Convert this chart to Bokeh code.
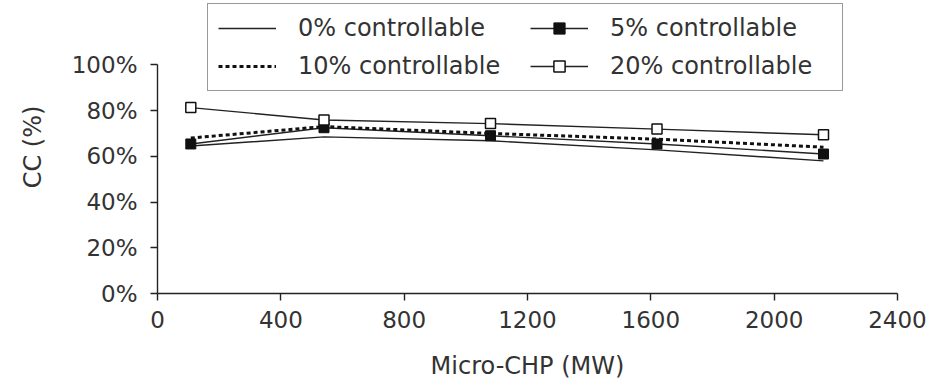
from bokeh.plotting import figure
from bokeh.models import Range1d, Legend, LegendItem, FixedTicker, CustomJSTickFormatter
from bokeh.embed import file_html
from bokeh.resources import INLINE

# Data
micro_chp = [108, 540, 1080, 1620, 2160]
cc_0 = [64.5, 68.5, 66.8, 62.8, 58.0]
cc_5 = [65.4, 72.5, 69.0, 65.4, 61.0]
cc_10 = [68.0, 73.0, 70.0, 67.5, 64.0]
cc_20 = [81.3, 75.9, 74.3, 71.9, 69.4]
series_labels = ["0% controllable", "5% controllable", "10% controllable", "20% controllable"]
x_ticks = [0, 400, 800, 1200, 1600, 2000, 2400]
y_ticks = [0, 20, 40, 60, 80, 100]

FONT = "DejaVu Sans"
TXT = "#333333"
LINE = "#222222"

# frame spans page y 0..296 ; 0..100% occupies the lower 231 px
Y_TOP = 100 * 296 / 231

p = figure(width=930, height=382, output_backend="svg", toolbar_location=None,
           x_range=Range1d(0, 2400), y_range=Range1d(0, Y_TOP),
           min_border_left=157, min_border_right=33, min_border_top=0, min_border_bottom=86)
p.outline_line_color = None
p.grid.grid_line_color = None
p.background_fill_color = "white"

r0 = p.line(micro_chp, cc_0, line_color=LINE, line_width=1.4)
r5 = p.line(micro_chp, cc_5, line_color=LINE, line_width=1.4)
r5m = p.scatter(micro_chp, cc_5, marker="square", size=10, fill_color="#111111", line_color="#111111")
r10 = p.line(micro_chp, cc_10, line_color="#111111", line_width=3, line_dash="4 3")
r20 = p.line(micro_chp, cc_20, line_color=LINE, line_width=1.4)
r20m = p.scatter(micro_chp, cc_20, marker="square", size=10, fill_color="white", line_color="#111111", line_width=1.5)

for ax in (p.xaxis[0], p.yaxis[0]):
    ax.axis_line_color = LINE
    ax.axis_line_width = 1.4
    ax.major_tick_line_color = LINE
    ax.major_tick_line_width = 1.4
    ax.major_tick_in = 0
    ax.major_tick_out = 7
    ax.minor_tick_line_color = None
    ax.major_label_text_font = FONT
    ax.major_label_text_font_size = "23px"
    ax.major_label_text_color = TXT
    ax.axis_label_text_font = FONT
    ax.axis_label_text_font_size = "24px"
    ax.axis_label_text_font_style = "normal"
    ax.axis_label_text_color = TXT

p.yaxis.bounds = (0, 100)
p.xaxis.ticker = FixedTicker(ticks=x_ticks)
p.yaxis.ticker = FixedTicker(ticks=y_ticks)
p.yaxis.formatter = CustomJSTickFormatter(code="return tick.toFixed(0) + '%';")
p.xaxis.axis_label = "Micro-CHP (MW)"
p.yaxis.axis_label = "CC (%)"
p.xaxis.major_label_standoff = 10
p.yaxis.major_label_standoff = 13
p.xaxis.axis_label_standoff = 21
p.yaxis.axis_label_standoff = 22

# column-major order: col1 = 0%, 10% ; col2 = 5%, 20%
legend = Legend(items=[
    LegendItem(label=series_labels[0], renderers=[r0]),
    LegendItem(label=series_labels[2], renderers=[r10]),
    LegendItem(label=series_labels[1], renderers=[r5, r5m]),
    LegendItem(label=series_labels[3], renderers=[r20, r20m]),
], location=(50, 202), ncols=2)
legend.label_text_font = FONT
legend.label_text_font_size = "24px"
legend.label_text_color = TXT
legend.border_line_color = "#333333"
legend.border_line_width = 1.5
legend.background_fill_color = "white"
legend.background_fill_alpha = 1
legend.glyph_width = 58
legend.glyph_height = 28
legend.label_standoff = 22
legend.label_width = 222
legend.spacing = 10
legend.padding = 10
legend.margin = 0
p.add_layout(legend, "center")

open("out.html", "w").write(file_html(p, INLINE))
